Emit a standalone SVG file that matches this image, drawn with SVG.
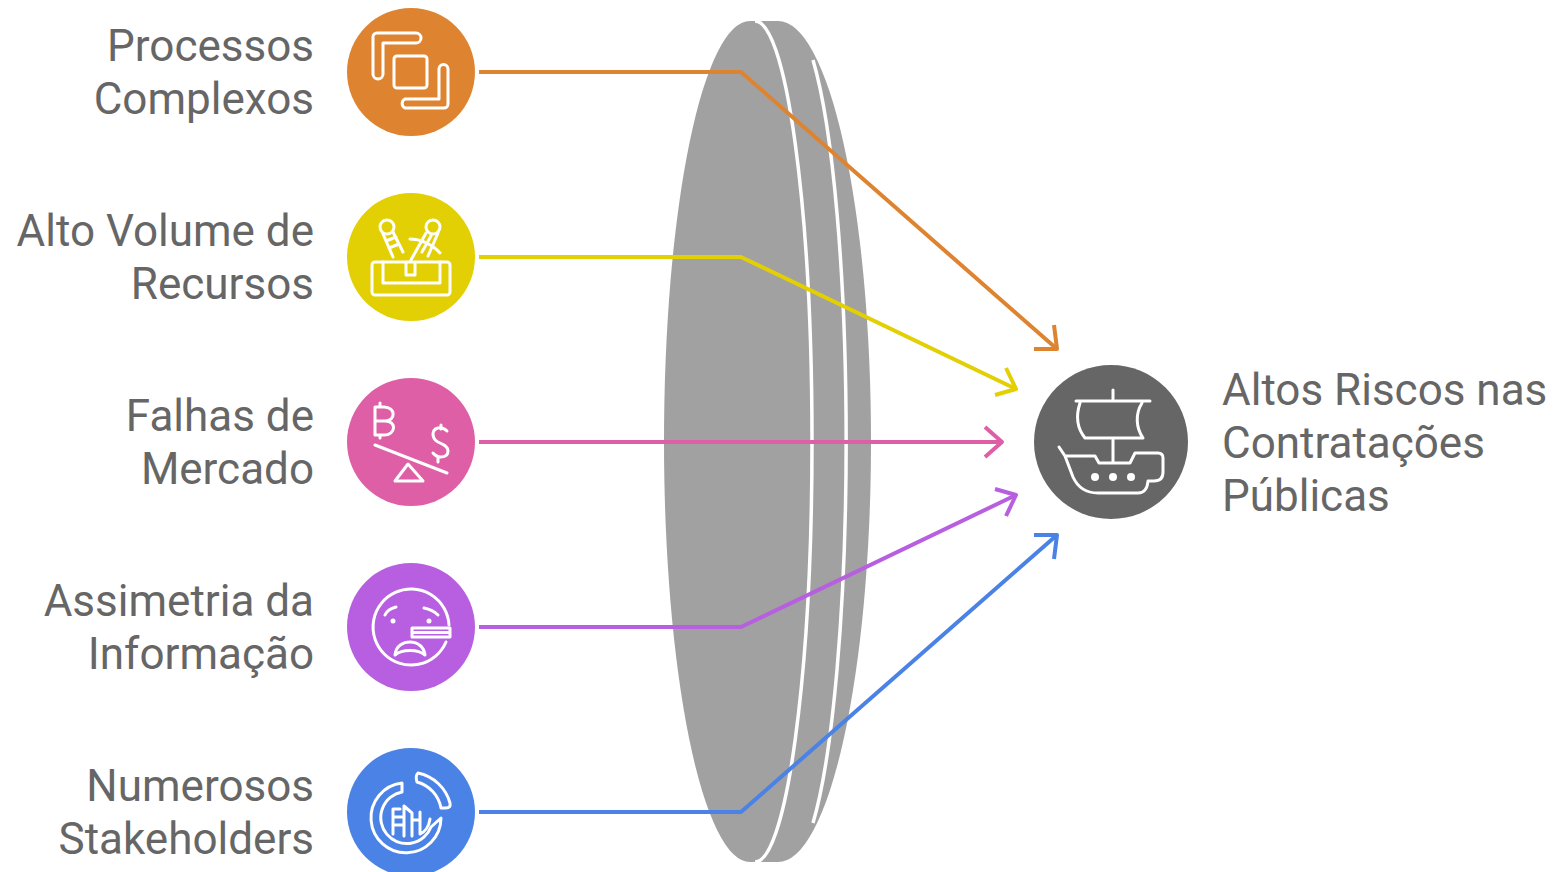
<svg xmlns="http://www.w3.org/2000/svg" width="1554" height="872" viewBox="0 0 1554 872">
<style>
text{font-family:Roboto,"Liberation Sans",sans-serif;font-size:44px;fill:#666}
.l text{text-anchor:end}
.i{fill:none;stroke:#fff;stroke-width:3;stroke-linecap:round;stroke-linejoin:round}
.c{fill:none;stroke-width:4;stroke-linejoin:round}
.d{fill:#fff}
</style>
<rect width="1554" height="872" fill="#fff"/>
<g id="lens">
<path d="M750 21H778A93 420.500 0 0 1 778 862H750A86 420.500 0 0 1 750 21Z" fill="#a1a1a1"/>
<path d="M755 21A57 420.500 0 0 1 755 862" fill="none" stroke="#fff" stroke-width="3.500"/>
<path d="M813 60A57 420 0 0 1 813 823" fill="none" stroke="#fff" stroke-width="3.500"/>
</g>
<g id="node-processos" class="l">
<circle cx="411" cy="72" r="64" fill="#de8431"/>
<rect class="i" x="394" y="56" width="33" height="32" rx="3"/>
<path class="i" d="M373 37a4 4 0 0 1 4-4H416a5 5 0 0 1 0 10H383V74a5 5 0 0 1-10 0Z"/>
<path class="i" d="M448 104a4 4 0 0 1-4 4H405a5 5 0 0 1 0-9H439V69a4.500 4.500 0 0 1 9 0Z"/>
<text x="314" y="61">Processos</text><text x="314" y="114">Complexos</text>
</g>
<g id="node-recursos" class="l">
<circle cx="411" cy="257" r="64" fill="#e2cf04"/>
<rect class="i" x="372" y="262" width="78" height="33" rx="3"/>
<path class="i" d="M383 262V283H440V262M406 263V275H415V263"/>
<circle class="i" cx="387" cy="227" r="7"/>
<circle class="i" cx="433" cy="227" r="7"/>
<path class="i" d="M383 234L393 257M393 232L403 252M386 241L396 237M389 248L399 244"/>
<path class="i" d="M426 233L411 260M438 233L428 256M410 239C420 239 432 244 440 253M422 252L431 236"/>
<text x="314" y="246">Alto Volume de</text><text x="314" y="299">Recursos</text>
</g>
<g id="node-mercado" class="l">
<circle cx="411" cy="442" r="64" fill="#de5fa6"/>
<path class="i" d="M375 407H384C396 407 396 421 385 421H375ZM385 421C397 421 396 435 384 435H375V407M380 403V407M380 435V438"/>
<path class="i" d="M447 431C441 425 433 428 433 434C433 445 448 442 448 451C448 458 438 459 433 453M441 425V429M438 457V462"/>
<path class="i" d="M375 445L447 473"/>
<path class="i" d="M408 464L395 481H423Z"/>
<text x="314" y="431">Falhas de</text><text x="314" y="484">Mercado</text>
</g>
<g id="node-informacao" class="l">
<circle cx="411" cy="627" r="64" fill="#b75fe0"/>
<path class="i" d="M449 625A38 38 0 1 0 446 642"/>
<path class="i" d="M412 628H450V637H412ZM414 632.500H448"/>
<path class="i" d="M385 615C387 610 392 608 396 607M424 608C429 609 435 612 438 615"/>
<circle class="d" cx="393" cy="621" r="2.500"/><circle class="d" cx="429" cy="621" r="2.500"/>
<path class="i" d="M395 655C396 645 404 642 410 642C418 642 424 647 425 655C418 649 402 649 395 655Z"/>
<text x="314" y="616">Assimetria da</text><text x="314" y="669">Informação</text>
</g>
<g id="node-stakeholders" class="l">
<circle cx="411" cy="812" r="64" fill="#4a82e5"/>
<path class="i" d="M402 783A35 35 0 1 0 441 818L431 827A26 26 0 1 1 402 792Z"/>
<path class="i" d="M418 773A42 42 0 0 1 450 803Q451 808 446 808L441 808A33 33 0 0 0 417 782Q415 776 418 773Z"/>
<path class="i" d="M393 809V834M393 809H400M393 817H402M393 825H404M404 806V836M404 806L412 813V836M412 820H420M420 812V834C425 832 429 826 430 819"/>
<text x="314" y="801">Numerosos</text><text x="314" y="854">Stakeholders</text>
</g>
<g id="connectors" class="c">
<g stroke="#de8431" class="c"><path d="M479 72H741L1057 349"/><path d="M1034 349L1057 349L1054 325"/></g>
<g stroke="#e2cf04" class="c"><path d="M479 257H741L1016 389"/><path d="M995 395L1016 389L1006 368"/></g>
<g stroke="#de5fa6" class="c"><path d="M479 442H1002"/><path d="M985 427L1002 442L985 457"/></g>
<g stroke="#b75fe0" class="c"><path d="M479 627H741L1016 495"/><path d="M995 489L1016 495L1006 516"/></g>
<g stroke="#4a82e5" class="c"><path d="M479 812H741L1057 535"/><path d="M1034 535L1057 535L1054 559"/></g>
</g>
<g id="node-riscos">
<circle cx="1111" cy="442" r="77" fill="#666"/>
<path class="i" d="M1113 390V401M1076 401H1150M1080 403C1076 415 1077 428 1085 438H1143C1136 428 1135 414 1142 403M1113 440V462"/>
<path class="i" d="M1059 447L1065 456H1095L1099 463H1130L1135 453H1158Q1163 453 1163 458V472Q1163 481 1154 481H1148Q1147 493 1138 493H1098C1086 493 1078 488 1073 477L1065 456"/>
<circle class="d" cx="1095" cy="477" r="4"/><circle class="d" cx="1113" cy="477" r="4"/><circle class="d" cx="1131" cy="477" r="4"/>
<text x="1222" y="405">Altos Riscos nas</text><text x="1222" y="458">Contratações</text><text x="1222" y="511">Públicas</text>
</g>
</svg>
